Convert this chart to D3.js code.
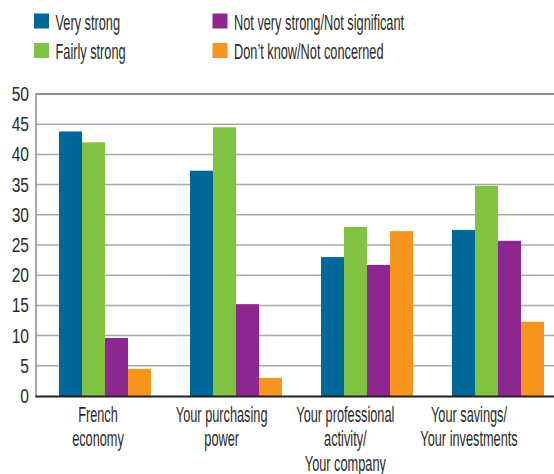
<!DOCTYPE html>
<html>
<head>
<meta charset="utf-8">
<script src="https://cdn.jsdelivr.net/npm/d3@7"></script>
<style>
  html, body { margin: 0; padding: 0; background: #fff; }
  svg { display: block; }
  text { font-family: "Liberation Sans", Arial, sans-serif; fill: #2b2a29; }
</style>
</head>
<body>
<svg id="chart" width="554" height="474"></svg>
<script>
// Categories (multi-line labels) and series
const categories = [
  ["French", "economy"],
  ["Your purchasing", "power"],
  ["Your professional", "activity/", "Your company"],
  ["Your savings/", "Your investments"]
];
const seriesNames = ["Very strong", "Fairly strong", "Not very strong/Not significant", "Don\u2019t know/Not concerned"];
const veryStrong = [43.8, 37.3, 23.0, 27.5];
const fairlyStrong = [42.0, 44.5, 28.0, 34.8];
const notVeryStrong = [9.6, 15.2, 21.7, 25.7];
const dontKnow = [4.5, 3.0, 27.3, 12.3];
const yTicks = [0, 5, 10, 15, 20, 25, 30, 35, 40, 45, 50];
const colors = ["#00679b", "#80c242", "#8d268e", "#f7941d"];

const seriesValues = [veryStrong, fairlyStrong, notVeryStrong, dontKnow];
const svg = d3.select("#chart");

const plotLeft = 36, plotRight = 554, plotTop = 94, plotBottom = 396;
// Narrow, tall lettering
const narrow = 0.58, narrowDigits = 0.8;

const y = d3.scaleLinear().domain([0, 50]).range([plotBottom, plotTop]);

const step = 131;
const x0 = d3.scaleBand()
  .domain(d3.range(categories.length))
  .range([plotLeft, plotLeft + step * (categories.length - 39 / 131 + 2 * 23 / 131)])
  .paddingInner(39 / 131)
  .paddingOuter(23 / 131);

const x1 = d3.scaleBand()
  .domain(d3.range(seriesNames.length))
  .range([0, x0.bandwidth()]);

// Label positions under each group
const xLabel = d3.scalePoint()
  .domain(d3.range(categories.length))
  .range([98, 469]);

// Grid lines
svg.append("g")
  .selectAll("line")
  .data(yTicks.filter(t => t > 0))
  .join("line")
  .attr("x1", plotLeft).attr("x2", plotRight)
  .attr("y1", d => y(d)).attr("y2", d => y(d))
  .attr("stroke", d => d === 50 ? "#8e8e8e" : "#a9a9a9")
  .attr("stroke-width", d => d === 50 ? 2 : 1.5);

// Y axis line
svg.append("line")
  .attr("x1", plotLeft).attr("x2", plotLeft)
  .attr("y1", y(50) - 1).attr("y2", plotBottom)
  .attr("stroke", "#8e8e8e").attr("stroke-width", 1.5);

// Y tick labels
svg.append("g")
  .selectAll("text")
  .data(yTicks)
  .join("text")
  .attr("transform", d => `translate(29,${y(d) + 7}) scale(${narrowDigits},1)`)
  .attr("text-anchor", "end")
  .attr("font-size", 19.5)
  .text(d => d);

// Bars
const groups = svg.append("g")
  .selectAll("g")
  .data(categories.map((c, i) => i))
  .join("g")
  .attr("transform", i => `translate(${x0(i)},0)`);

groups.selectAll("rect")
  .data(i => seriesValues.map((s, k) => ({ k, v: s[i] })))
  .join("rect")
  .attr("x", d => x1(d.k))
  .attr("width", x1.bandwidth())
  .attr("y", d => y(d.v))
  .attr("height", d => plotBottom - y(d.v))
  .attr("fill", d => colors[d.k]);

// Baseline
svg.append("line")
  .attr("x1", plotLeft - 0.75).attr("x2", plotRight)
  .attr("y1", plotBottom + 0.5).attr("y2", plotBottom + 0.5)
  .attr("stroke", "#231f20").attr("stroke-width", 2);

// Category labels
const catLabels = svg.append("g")
  .selectAll("text")
  .data(categories.map((c, i) => i))
  .join("text")
  .attr("text-anchor", "middle")
  .attr("font-size", 22)
  .attr("transform", i => `translate(${xLabel(i)},${plotBottom + 26}) scale(${narrow},1)`);

catLabels.selectAll("tspan")
  .data(i => categories[i])
  .join("tspan")
  .attr("x", 0)
  .attr("y", (d, j) => j * 24.5)
  .text(d => d);

// Legend
const legendPos = [
  { x: 34, y: 13.5 }, { x: 34, y: 43 }, { x: 212.5, y: 13.5 }, { x: 212.5, y: 43 }
];
const legend = svg.append("g")
  .selectAll("g")
  .data(seriesNames.map((n, k) => k))
  .join("g")
  .attr("transform", k => `translate(${legendPos[k].x},${legendPos[k].y})`);

legend.append("rect")
  .attr("width", 15).attr("height", 15)
  .attr("fill", k => colors[k]);

legend.append("text")
  .attr("transform", `translate(21.5,16) scale(${narrow},1)`)
  .attr("font-size", 22)
  .text(k => seriesNames[k]);
</script>
</body>
</html>
